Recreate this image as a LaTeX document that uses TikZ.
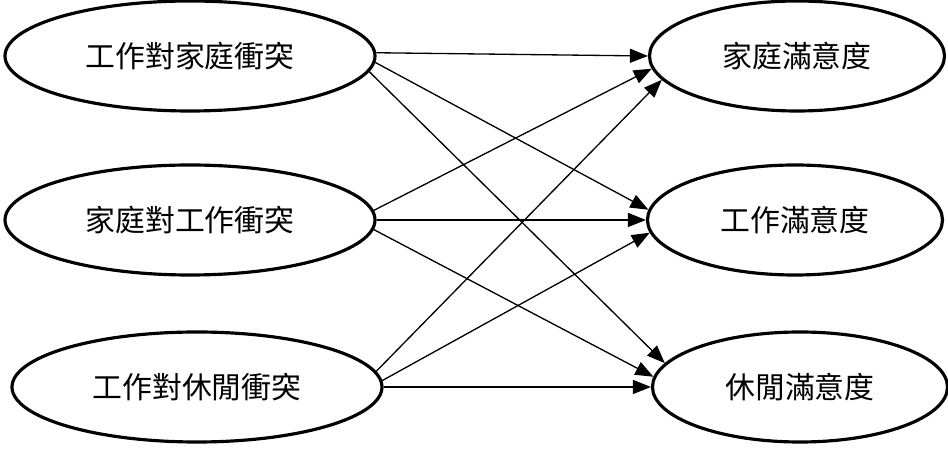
\documentclass[tikz,border=0pt]{standalone}
\usepackage{fontspec}
\newfontfamily\cjk{Noto Sans CJK TC}
\usetikzlibrary{shapes.geometric,arrows.meta}

\begin{document}
\begin{tikzpicture}[
      oval/.style={draw, ellipse, line width=1.8pt, inner sep=0pt,
                   minimum height=2.2cm, font=\cjk\fontsize{17}{19}\selectfont},
      link/.style={line width=0.75pt, -{Triangle[length=0.36cm, width=0.28cm]}}
    ]
      \useasboundingbox (0,0) rectangle (18.96,-9.28);
      % left side: conflicts
      \node[oval, minimum width=7.4cm] (wf) at (3.80,-1.12) {工作對家庭衝突};
      \node[oval, minimum width=7.4cm] (fw) at (3.80,-4.40) {家庭對工作衝突};
      \node[oval, minimum width=7.4cm] (wl) at (3.94,-7.74) {工作對休閒衝突};
      % right side: satisfaction
      \node[oval, minimum width=5.9cm] (fs) at (15.94,-1.12) {家庭滿意度};
      \node[oval, minimum width=5.9cm] (ws) at (15.90,-4.40) {工作滿意度};
      \node[oval, minimum width=5.9cm] (ls) at (16.00,-7.74) {休閒滿意度};
      % paths
      \draw[link] (wf.1)  -- (fs.180);
      \draw[link] (wf.-2) -- (ws.176);
      \draw[link] (wf.-5) -- (ls.170);
      \draw[link] (fw.3)  -- (fs.185);
      \draw[link] (fw.0)  -- (ws.180);
      \draw[link] (fw.-3) -- (ls.176);
      \draw[link] (wl.5)  -- (fs.190);
      \draw[link] (wl.2)  -- (ws.185);
      \draw[link] (wl.0)  -- (ls.180);
    \end{tikzpicture}
\end{document}
